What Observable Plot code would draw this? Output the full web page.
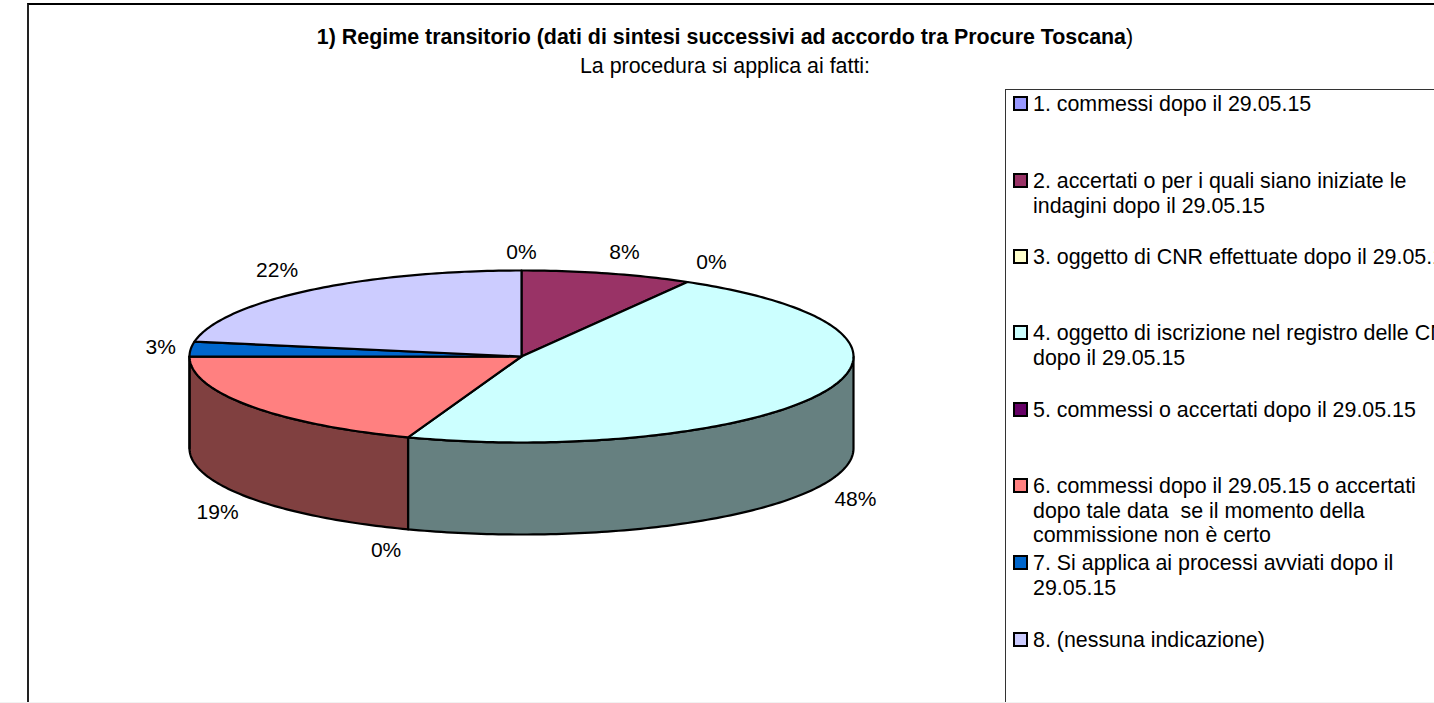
<!DOCTYPE html>
<html lang="it">
<head>
<meta charset="utf-8">
<script src="https://cdn.jsdelivr.net/npm/d3@7"></script>
<script src="https://cdn.jsdelivr.net/npm/@observablehq/plot@0.6"></script>
<style>
html,body{margin:0;padding:0;width:1434px;height:703px;overflow:hidden;background:#fff}
body{position:relative;font-family:"Liberation Sans",Arial,sans-serif;color:#000}
#frame{position:absolute;left:27px;top:3px;width:1600px;height:900px;border:2px solid #000;border-left-color:#222;box-sizing:border-box}
#edge{position:absolute;left:0;top:702px;width:1434px;height:1px;background:#f2f2f2}
.t{position:absolute;white-space:pre;font-size:21.4px;line-height:24px}
#legend{position:absolute;left:1005px;top:89px;width:700px;height:800px;border:1.5px solid #333;box-sizing:border-box;background:#fff}
.sw{position:absolute;left:1013px;width:15px;height:15px;border:2px solid #000;box-sizing:border-box}
#chart{position:absolute;left:0;top:0}
</style>
</head>
<body>
<div id="frame"></div>
<div id="legend"></div>
<div id="edge"></div>
<div id="chart"></div>
<script>
const titleBold = "1) Regime transitorio (dati di sintesi successivi ad accordo tra Procure Toscana";
const titleEnd = ")";
const subtitle = "La procedura si applica ai fatti:";
const categories = [
  "1. commessi dopo il 29.05.15",
  "2. accertati o per i quali siano iniziate le\nindagini dopo il 29.05.15",
  "3. oggetto di CNR effettuate dopo il 29.05.15",
  "4. oggetto di iscrizione nel registro delle CNR\ndopo il 29.05.15",
  "5. commessi o accertati dopo il 29.05.15",
  "6. commessi dopo il 29.05.15 o accertati\ndopo tale data  se il momento della\ncommissione non è certo",
  "7. Si applica ai processi avviati dopo il\n29.05.15",
  "8. (nessuna indicazione)"
];
const values = [0, 8.33, 0, 47.22, 0, 19.44, 2.78, 22.23];
const shareLabels = ["0%", "8%", "0%", "48%", "0%", "19%", "3%", "22%"];
const colors = ["#9999FF", "#993366", "#FFFFCC", "#CCFFFF", "#660066", "#FF8080", "#0066CC", "#CCCCFF"];
const sideColors = ["#4D4D80", "#4D1A33", "#808066", "#668080", "#330033", "#804040", "#003366", "#666680"];

// layout (pixels), separate from the data
const W = 1000, H = 620, cx = 521, cy = 356, rx = 332, ry = 86, depthPx = 92;
const labelNudge = [[0,-18],[17,-21],[24,-20],[33,14],[-22,21],[-32,14],[-30,-2],[-31,-20]];
const legendBaselines = [111,188,264,340,417,493,570,647];

const depth = depthPx / ry;
const pie = d3.pie().sort(null).value(d => d)(values);
const rim = a => ({x: Math.sin(a), y: Math.cos(a)});
const arc = (a, b) => {
  const n = Math.max(1, Math.ceil(Math.abs(b - a) / (Math.PI / 180)));
  return d3.range(n + 1).map(i => rim(a + (b - a) * i / n));
};
const sideMarks = [], topMarks = [];
pie.forEach((s, i) => {
  if (values[i] === 0) return;
  const a = Math.max(s.startAngle, Math.PI / 2), b = Math.min(s.endAngle, 3 * Math.PI / 2);
  if (b > a) {
    const upper = arc(a, b);
    const lower = arc(b, a).map(p => ({x: p.x, y: p.y - depth}));
    const poly = [...upper, ...lower, upper[0]];
    sideMarks.push(Plot.line(poly, {x: "x", y: "y", fill: sideColors[i], stroke: "#000", strokeWidth: 2.2, strokeLinejoin: "round"}));
  }
  const poly = [{x: 0, y: 0}, ...arc(s.startAngle, s.endAngle), {x: 0, y: 0}];
  topMarks.push(Plot.line(poly, {x: "x", y: "y", fill: colors[i], stroke: "#000", strokeWidth: 2.2, strokeLinejoin: "round"}));
});
const labels = pie.map((s, i) => {
  const m = (s.startAngle + s.endAngle) / 2, p = rim(m);
  const front = Math.cos(m) < 0 ? depth : 0;
  return {
    x: p.x + labelNudge[i][0] / rx,
    y: p.y - front - labelNudge[i][1] / ry,
    text: shareLabels[i]
  };
});
const chart = Plot.plot({
  width: W, height: H, margin: 0,
  style: {background: "transparent", overflow: "visible"},
  x: {axis: null, domain: [-cx / rx, (W - cx) / rx], range: [0, W]},
  y: {axis: null, domain: [(cy - H) / ry, cy / ry], range: [H, 0]},
  marks: [
    ...sideMarks,
    ...topMarks,
    Plot.text(labels, {x: "x", y: "y", text: "text", fontSize: 21, fontFamily: "Liberation Sans, Arial, sans-serif", fill: "#000", textAnchor: "middle", lineAnchor: "middle"})
  ]
});
document.getElementById("chart").append(chart);

function addText(left, baseline, html) {
  const d = document.createElement("div");
  d.className = "t";
  d.style.left = left + "px";
  d.style.top = (baseline - 19) + "px";
  d.innerHTML = html;
  document.body.append(d);
  return d;
}
const tt = addText(725, 44, "<b></b><span></span>");
tt.style.transform = "translateX(-50%)";
tt.querySelector("b").textContent = titleBold;
tt.querySelector("span").textContent = titleEnd;
const st = addText(725, 73, "");
st.style.transform = "translateX(-50%)";
st.textContent = subtitle;
categories.forEach((c, i) => {
  const sw = document.createElement("div");
  sw.className = "sw";
  sw.style.top = (legendBaselines[i] - 15) + "px";
  sw.style.background = colors[i];
  document.body.append(sw);
  c.split("\n").forEach((line, j) => {
    const d = addText(1033, legendBaselines[i] + j * 24.5, "");
    d.textContent = line;
  });
});
</script>
</body>
</html>
